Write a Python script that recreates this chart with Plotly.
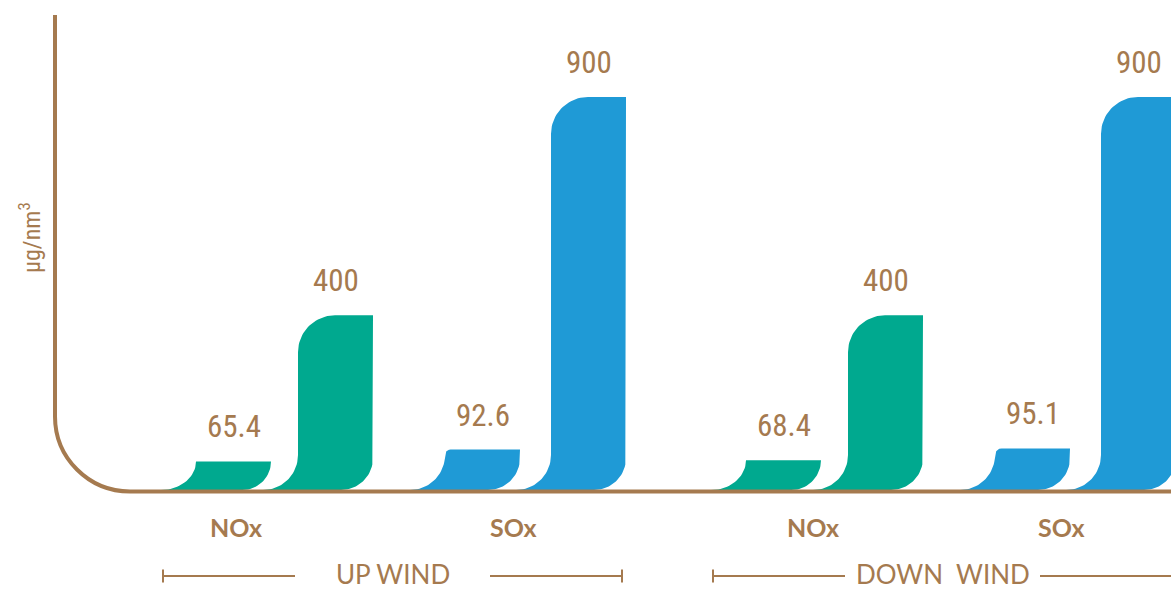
import numpy as np
import plotly.graph_objects as go

# ---------------- data ----------------
winds = ["UP WIND", "DOWN WIND"]
wind_text = ["UP WIND", "DOWN  WIND"]
pollutants = ["NOx", "SOx"]
nox_measured = [65.4, 68.4]
nox_limit = [400, 400]
sox_measured = [92.6, 95.1]
sox_limit = [900, 900]
unit_label = "μg/nm<sup>3</sup>"

# ---------------- layout / style constants ----------------
W, H = 1171, 590
BASE_PX = 490                 # pixel row of the value 0
PX_PER_UNIT = 393 / 900       # vertical scale
group_origin = [196, 746]     # left edge of first bar in each wind group (x axis in px units)
slot_offset = [0, 102, 249, 355]
label_offset = [[40, 317], [67, 315]]
BAR_W = 75
R_FLARE, R_TOP, R_BOTTOM = 35, 37, 32

BROWN = "#A57A4F"
GREEN = "#00A98F"
BLUE = "#1F9AD6"
colors = [GREEN, BLUE]
NARROW = "Noto Sans ExtraCondensed, Noto Sans Condensed, Roboto Condensed, Roboto"

Y_MIN = -(H - BASE_PX) / PX_PER_UNIT
Y_MAX = BASE_PX / PX_PER_UNIT


def px_to_y(py):
    return (BASE_PX - py) / PX_PER_UNIT


def arc(cx, cu, rx, ru, t0, t1, n=24):
    t = np.radians(np.linspace(t0, t1, n))
    return list(cx + rx * np.cos(t)), list(cu + ru * np.sin(t))


def bar_outline(left, right, value):
    k = PX_PER_UNIT
    h = value * k
    xs, us = [], []
    fy = min(R_FLARE, h)
    ax, au = arc(left - R_FLARE, fy, R_FLARE, fy, -90, 0)
    xs += ax; us += au
    if h - fy > 1:
        rt = min(R_TOP, h - fy)
        xs.append(left); us.append(h - rt)
        ax, au = arc(left + rt, h - rt, rt, rt, 180, 90)
        xs += ax; us += au
    xs.append(right); us.append(h)
    rb = min(R_BOTTOM, h)
    ax, au = arc(right - rb, rb, rb, rb, 0, -90)
    xs += ax; us += au
    xs.append(left - R_FLARE); us.append(0)
    ys = [u / k for u in us]
    return xs, ys


fig = go.Figure()
annotations = []

series = [[nox_measured, nox_limit], [sox_measured, sox_limit]]
for gi, wind in enumerate(winds):
    for pi, pol in enumerate(pollutants):
        for si in range(2):
            v = series[pi][si][gi]
            left = group_origin[gi] + slot_offset[2 * pi + si]
            right = left + BAR_W
            xs, ys = bar_outline(left, right, v)
            fig.add_trace(go.Scatter(
                x=xs, y=ys, mode="lines", fill="toself",
                fillcolor=colors[pi], line=dict(width=0, color=colors[pi]),
                hoverinfo="skip", showlegend=False))
            annotations.append(dict(
                x=(left + right) / 2, y=v, xref="x", yref="y",
                text=f"{v:g}", showarrow=False, yanchor="bottom", yshift=14,
                font=dict(family=NARROW, size=31, color=BROWN)))
        annotations.append(dict(
            x=group_origin[gi] + label_offset[gi][pi], y=1 - 527 / H,
            xref="x", yref="paper", text=pol, showarrow=False,
            yanchor="middle",
            font=dict(family="Lato, Open Sans", size=25, color=BROWN, weight="bold")))

# group brackets
shapes = []
for gi, wind in enumerate(winds):
    x0 = group_origin[gi] - 33
    x1 = group_origin[gi] + 426
    yb = 1 - 576 / H
    tick = 6.5 / H
    seg = 132
    shapes += [
        dict(type="line", xref="x", yref="paper", x0=x0, x1=x0 + seg, y0=yb, y1=yb,
             line=dict(color=BROWN, width=2)),
        dict(type="line", xref="x", yref="paper", x0=x1 - seg, x1=x1, y0=yb, y1=yb,
             line=dict(color=BROWN, width=2)),
        dict(type="line", xref="x", yref="paper", x0=x0, x1=x0, y0=yb - tick, y1=yb + tick,
             line=dict(color=BROWN, width=2)),
        dict(type="line", xref="x", yref="paper", x0=x1, x1=x1, y0=yb - tick, y1=yb + tick,
             line=dict(color=BROWN, width=2)),
    ]
    annotations.append(dict(
        x=(x0 + x1) / 2, y=1 - 574 / H, xref="x", yref="paper", text=wind_text[gi],
        showarrow=False, yanchor="middle",
        font=dict(family="Lato, Open Sans", size=26, color=BROWN)))

# axis line with rounded corner
AX_X, AX_TOP, AX_BASE, AX_R = 55, 15, 491.5, 75
c = 0.5523 * AX_R
path = (f"M {AX_X},{px_to_y(AX_TOP)} L {AX_X},{px_to_y(AX_BASE - AX_R)} "
        f"C {AX_X},{px_to_y(AX_BASE - AX_R + c)} {AX_X + AX_R - c},{px_to_y(AX_BASE)} "
        f"{AX_X + AX_R},{px_to_y(AX_BASE)} L {W + 5},{px_to_y(AX_BASE)}")
shapes.append(dict(type="path", xref="x", yref="y", path=path,
                   line=dict(color=BROWN, width=4), layer="above"))

annotations.append(dict(
    x=30, y=1 - 238 / H, xref="x", yref="paper", text=unit_label, textangle=-90,
    showarrow=False,
    font=dict(family=NARROW, size=24, color=BROWN)))

fig.update_layout(
    width=W, height=H, autosize=False,
    margin=dict(l=0, r=0, t=0, b=0, pad=0),
    paper_bgcolor="white", plot_bgcolor="white",
    xaxis=dict(range=[0, W], visible=False, fixedrange=True),
    yaxis=dict(range=[Y_MIN, Y_MAX], visible=False, fixedrange=True),
    shapes=shapes, annotations=annotations, showlegend=False,
)
fig.write_html("out.html")
